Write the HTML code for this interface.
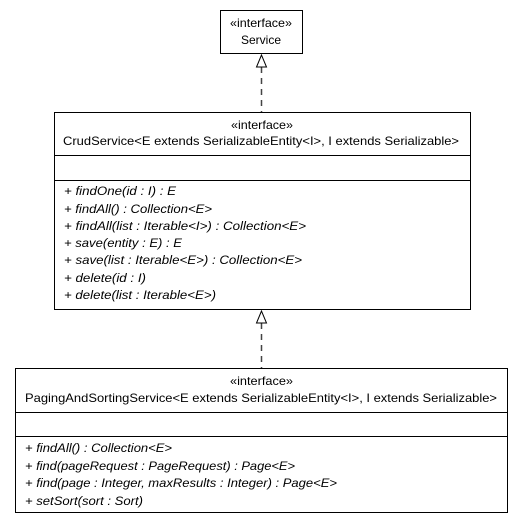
<!DOCTYPE html>
<html><head><style>body{margin:0;background:#fff}svg{display:block}text{font-family:"Liberation Sans",Arial,sans-serif;font-size:12px;fill:#000}.i{font-style:italic}</style></head><body>
<svg width="528" height="524" viewBox="0 0 528 524">
<rect x="0" y="0" width="528" height="524" fill="#fff"/>
<g stroke="#000" fill="#fff" stroke-width="1">
<rect x="220.5" y="10.5" width="82" height="43"/>
<rect x="54.5" y="112.5" width="416" height="197"/>
<line x1="54.5" y1="155.5" x2="470.5" y2="155.5"/>
<line x1="54.5" y1="180.5" x2="470.5" y2="180.5"/>
<rect x="15.5" y="368.5" width="492" height="144"/>
<line x1="15.5" y1="412.5" x2="507.5" y2="412.5"/>
<line x1="15.5" y1="436.5" x2="507.5" y2="436.5"/>
</g>
<g stroke="#444" stroke-width="1.5" fill="none">
<line x1="261.5" y1="67" x2="261.5" y2="112" stroke-dasharray="6,5"/>
<line x1="261.5" y1="323" x2="261.5" y2="368" stroke-dasharray="6,5"/>
</g>
<g stroke="#000" fill="#fff">
<polygon points="261.5,55 256.5,67 266.5,67"/>
<polygon points="261.5,311 256.5,323 266.5,323"/>
</g>
<text x="230" y="27" textLength="62" lengthAdjust="spacingAndGlyphs">«interface»</text>
<text x="241" y="44" textLength="40" lengthAdjust="spacingAndGlyphs">Service</text>
<text x="231" y="129" textLength="62" lengthAdjust="spacingAndGlyphs">«interface»</text>
<text x="63" y="145" textLength="396" lengthAdjust="spacingAndGlyphs">CrudService&lt;E extends SerializableEntity&lt;I&gt;, I extends Serializable&gt;</text>
<text x="64" y="195" class="i" textLength="112" lengthAdjust="spacingAndGlyphs">+ findOne(id : I) : E</text>
<text x="64" y="213" class="i" textLength="148" lengthAdjust="spacingAndGlyphs">+ findAll() : Collection&lt;E&gt;</text>
<text x="64" y="230" class="i" textLength="242" lengthAdjust="spacingAndGlyphs">+ findAll(list : Iterable&lt;I&gt;) : Collection&lt;E&gt;</text>
<text x="64" y="247" class="i" textLength="118" lengthAdjust="spacingAndGlyphs">+ save(entity : E) : E</text>
<text x="64" y="264" class="i" textLength="238" lengthAdjust="spacingAndGlyphs">+ save(list : Iterable&lt;E&gt;) : Collection&lt;E&gt;</text>
<text x="64" y="282" class="i" textLength="82" lengthAdjust="spacingAndGlyphs">+ delete(id : I)</text>
<text x="64" y="299" class="i" textLength="152" lengthAdjust="spacingAndGlyphs">+ delete(list : Iterable&lt;E&gt;)</text>
<text x="230" y="385" textLength="63" lengthAdjust="spacingAndGlyphs">«interface»</text>
<text x="25" y="402" textLength="472" lengthAdjust="spacingAndGlyphs">PagingAndSortingService&lt;E extends SerializableEntity&lt;I&gt;, I extends Serializable&gt;</text>
<text x="25" y="452" class="i" textLength="147" lengthAdjust="spacingAndGlyphs">+ findAll() : Collection&lt;E&gt;</text>
<text x="25" y="470" class="i" textLength="270" lengthAdjust="spacingAndGlyphs">+ find(pageRequest : PageRequest) : Page&lt;E&gt;</text>
<text x="25" y="487" class="i" textLength="312" lengthAdjust="spacingAndGlyphs">+ find(page : Integer, maxResults : Integer) : Page&lt;E&gt;</text>
<text x="25" y="505" class="i" textLength="118" lengthAdjust="spacingAndGlyphs">+ setSort(sort : Sort)</text>
</svg>
</body></html>
